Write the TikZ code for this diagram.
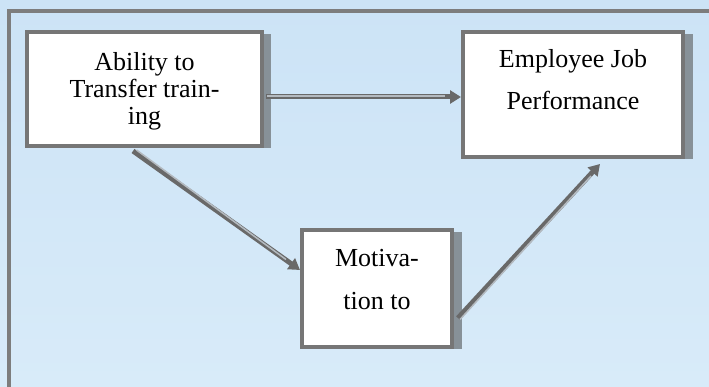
\documentclass[tikz,border=0pt]{standalone}
\usepackage{fontspec}
\setmainfont{Liberation Serif}
\usetikzlibrary{arrows.meta,calc}
\definecolor{bgtop}{RGB}{204,227,246}
\definecolor{bgmid}{RGB}{234,244,252}
\definecolor{bgbot}{RGB}{216,235,249}
\definecolor{framegray}{RGB}{125,125,125}
\definecolor{boxgray}{RGB}{118,118,118}
\definecolor{shadowgray}{RGB}{135,145,152}
\definecolor{arrowgray}{RGB}{105,105,105}
\definecolor{arrowlight}{RGB}{180,186,192}
\tikzset{
  card/.style={draw=boxgray, line width=4pt, fill=white, rectangle, inner sep=0pt},
  conn/.style={draw=arrowgray, line width=5pt, -{Triangle[length=11pt,width=13pt]}},
  connhi/.style={draw=arrowlight, line width=1.5pt},
  framestyle/.style={draw=framegray, line width=4pt},
  label26/.style={align=center, inner sep=0pt}
}
\begin{document}
\begin{tikzpicture}[x=1pt,y=-1pt]
\useasboundingbox (0,0) rectangle (709,387);
\begin{scope}
\clip (0,0) rectangle (709,387);
\shade[top color=bgtop, middle color=bgmid, bottom color=bgbot] (0,0) rectangle (709,387);
\draw[framestyle] (9,400) -- (9,11) -- (720,11);
% shadows
\fill[shadowgray] (262,34) rectangle (271,148);
\fill[shadowgray] (683,34) rectangle (693,159);
\fill[shadowgray] (452,232) rectangle (462,349);
% boxes
\node[card, minimum width=235pt, minimum height=114pt] (A) at (144.5,89) {};
\node[card, minimum width=220pt, minimum height=125pt] (B) at (573,94.5) {};
\node[card, minimum width=150pt, minimum height=117pt] (C) at (377,288.5) {};
% texts
\node[label26, font=\fontsize{26}{27}\selectfont] (At) at (144.5,91) {Ability to\\Transfer train-\\ing};
\node[label26, font=\fontsize{26}{42}\selectfont] (Bt) at (573,80) {Employee Job\\Performance};
\node[label26, font=\fontsize{26}{43}\selectfont] (Ct) at (377,280) {Motiva-\\tion to};
% connectors
\draw[conn] ($(A.east)+(2,8)$) -- ($(B.west)+(0,2.5)$);
\draw[connhi] ($(A.east)+(3,7)$) -- ($(B.west)+(-16,1.5)$);
\draw[conn] ($(A.south)+(-11.5,3)$) -- ($(C.west)+(0,-18.5)$);
\draw[connhi] ($(A.south)+(-8,2)$) -- ($(C.west)+(-14,-29)$);
\draw[conn] ($(C.east)+(4,29.5)$) -- ($(B.south)+(27,5)$);
\draw[connhi] ($(C.east)+(6,31)$) -- ($(B.south)+(18,17)$);
\end{scope}
\end{tikzpicture}
\end{document}
